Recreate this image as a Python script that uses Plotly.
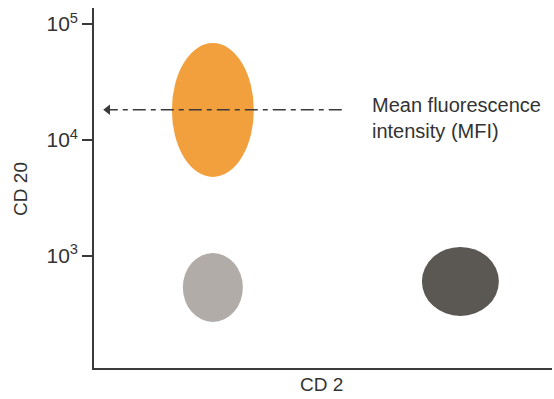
import plotly.graph_objects as go

# Populations: CD2 extent (linear 0-100 scale) and CD20 extent (fluorescence units)
populations = ["CD20+ CD2-", "CD20- CD2- (low)", "CD20- CD2+"]
cd2_low = [17.0, 19.4, 71.6]
cd2_high = [34.9, 32.5, 88.4]
cd20_low = [4800, 270, 304]
cd20_high = [68500, 1060, 1197]
colors = ["#F2A03D", "#B1ACA8", "#5B5753"]

# MFI indicator
mfi_value = 18200
mfi_x = [54.1, 3.0]

y_tickvals = [1e3, 1e4, 1e5]
y_ticktext = ["10<sup>3</sup>", "10<sup>4</sup>", "10<sup>5</sup>"]

axis_color = "#3a3a3a"
text_color = "#333333"
font_family = "Liberation Sans, Arial, sans-serif"

fig = go.Figure()

shapes = []
for i in range(len(populations)):
    shapes.append(dict(
        type="circle", xref="x", yref="y",
        x0=cd2_low[i], x1=cd2_high[i], y0=cd20_low[i], y1=cd20_high[i],
        fillcolor=colors[i], line=dict(width=0), layer="below",
    ))

# MFI dash-dot line
fig.add_trace(go.Scatter(
    x=mfi_x, y=[mfi_value, mfi_value], mode="lines",
    line=dict(color=axis_color, width=1.6, dash="13px,5px,5px,5px"),
    hoverinfo="skip", showlegend=False,
))
# arrowhead
fig.add_trace(go.Scatter(
    x=[mfi_x[1]], y=[mfi_value], mode="markers",
    marker=dict(symbol="triangle-left", size=9, color=axis_color),
    hoverinfo="skip", showlegend=False,
))

fig.update_layout(
    width=554, height=399,
    margin=dict(l=94, r=2, t=8, b=31),
    paper_bgcolor="white", plot_bgcolor="white",
    shapes=shapes,
    font=dict(family=font_family, color=text_color, size=19),
    xaxis=dict(
        range=[0, 100], showgrid=False, zeroline=False,
        showline=True, linecolor=axis_color, linewidth=1.6,
        showticklabels=False, ticks="",
    ),
    yaxis=dict(
        type="log", range=[2.034, 5.138], showgrid=False, zeroline=False,
        showline=True, linecolor=axis_color, linewidth=1.6,
        tickvals=y_tickvals, ticktext=y_ticktext,
        ticks="outside", ticklen=10, tickwidth=1.6, tickcolor=axis_color,
        tickfont=dict(size=21, color=text_color, family=font_family),
    ),
    annotations=[
        dict(text="Mean fluorescence<br>intensity (MFI)", xref="paper", yref="paper",
             x=0.603, y=0.694, xanchor="left", yanchor="middle", align="left",
             showarrow=False, font=dict(size=20, color=text_color)),
        dict(text="CD 2", xref="paper", yref="paper", x=0.496, y=-0.047,
             xanchor="center", yanchor="middle", showarrow=False,
             font=dict(size=19, color=text_color)),
        dict(text="CD 20", xref="paper", yref="paper", x=-0.162, y=0.497,
             xanchor="center", yanchor="middle", textangle=-90, showarrow=False,
             font=dict(size=19, color=text_color)),
    ],
)

fig.write_html("out.html")
